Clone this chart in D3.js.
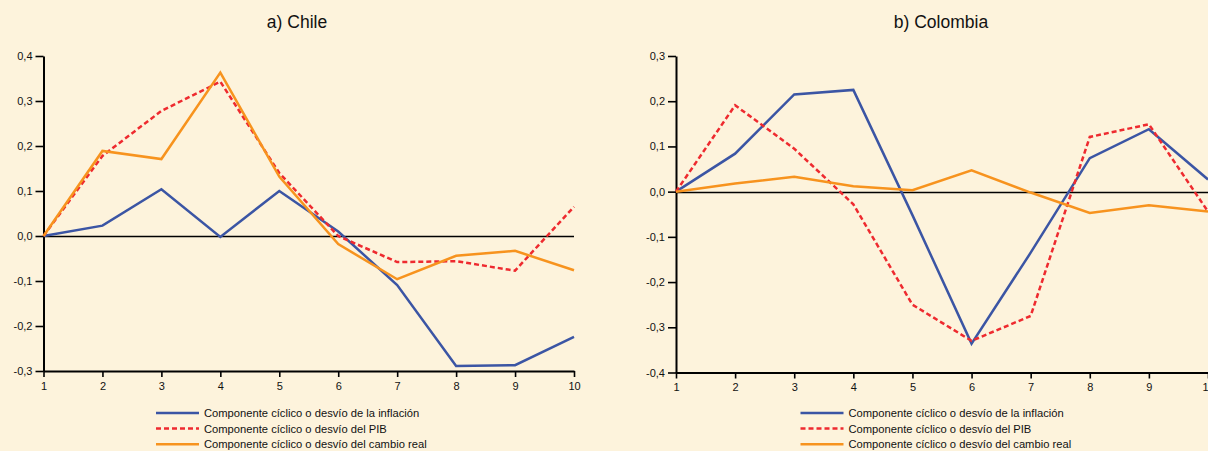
<!DOCTYPE html>
<html>
<head>
<meta charset="utf-8">
<script src="https://cdn.jsdelivr.net/npm/d3@7"></script>
<style>
  html, body { margin: 0; padding: 0; background: #fdf3dc; }
  svg { display: block; font-family: "Liberation Sans", Arial, Helvetica, sans-serif; }
</style>
</head>
<body>
<svg id="chart" width="1208" height="451"></svg>
<script>
// Periods on the x axis
const periods = [1, 2, 3, 4, 5, 6, 7, 8, 9, 10];

// a) Chile
const chileInflacion = [0, 0.023, 0.104, -0.002, 0.100, 0.010, -0.109, -0.289, -0.287, -0.224];
const chilePIB       = [0, 0.178, 0.278, 0.343, 0.140, 0.000, -0.058, -0.056, -0.077, 0.065];
const chileCambio    = [0, 0.189, 0.171, 0.363, 0.132, -0.018, -0.096, -0.044, -0.033, -0.076];
const chileTicks     = [-0.3, -0.2, -0.1, 0, 0.1, 0.2, 0.3, 0.4];

// b) Colombia
const colInflacion = [0, 0.084, 0.215, 0.225, -0.052, -0.336, -0.135, 0.074, 0.138, 0.027];
const colPIB       = [0, 0.191, 0.095, -0.028, -0.250, -0.330, -0.275, 0.121, 0.149, -0.044];
const colCambio    = [0, 0.018, 0.033, 0.012, 0.003, 0.047, -0.002, -0.047, -0.030, -0.044];
const colTicks     = [-0.4, -0.3, -0.2, -0.1, 0, 0.1, 0.2, 0.3];

const seriesNames = [
  "Componente cíclico o desvío de la inflación",
  "Componente cíclico o desvío del PIB",
  "Componente cíclico o desvío del cambio real"
];
const seriesColors = ["#3b55a4", "#ee2a2f", "#f7931e"];
const seriesDash = [null, "5,3", null];

const svg = d3.select("#chart");
const fmt = v => d3.format(".1f")(v).replace(".", ",").replace("−", "-");

function panel(opts) {
  const g = svg.append("g");
  const x = d3.scaleLinear().domain([1, 10]).range([opts.x0, opts.x1]);
  const y = d3.scaleLinear().domain([opts.ymin, opts.ymax]).range([opts.yBottom, opts.yTop]);

  // title
  g.append("text")
    .attr("x", opts.titleX).attr("y", 28)
    .attr("text-anchor", "middle")
    .attr("font-size", 17.5)
    .attr("fill", "#111")
    .text(opts.title);

  // zero reference line
  g.append("line")
    .attr("x1", x(1)).attr("x2", opts.zeroEnd)
    .attr("y1", Math.round(y(0)) + 0.5).attr("y2", Math.round(y(0)) + 0.5)
    .attr("stroke", "#000").attr("stroke-width", 1.3);

  // y axis
  const yAxis = g.append("g")
    .attr("transform", `translate(${x(1)},0)`)
    .call(d3.axisLeft(y).tickValues(opts.ticks).tickFormat(fmt).tickSize(8).tickSizeOuter(0));
  // x axis
  const xAxis = g.append("g")
    .attr("transform", `translate(0,${opts.yBottom})`)
    .call(d3.axisBottom(x).tickValues(periods).tickFormat(d3.format("d")).tickSize(6).tickSizeOuter(0));

  [yAxis, xAxis].forEach(a => {
    a.select(".domain").attr("stroke", "#000").attr("stroke-width", 2);
    a.selectAll(".tick line").attr("stroke", "#000").attr("stroke-width", 1.6);
    a.selectAll(".tick text").attr("font-size", 11).attr("fill", "#111")
      .attr("font-family", "'Liberation Sans', Arial, sans-serif");
  });
  yAxis.selectAll(".tick text").attr("x", -11);
  xAxis.selectAll(".tick text").attr("y", 11);

  // series lines
  const line = d3.line().x((d, i) => x(periods[i])).y(d => y(d));
  opts.series.forEach((s, k) => {
    g.append("path")
      .datum(s)
      .attr("d", line)
      .attr("fill", "none")
      .attr("stroke", seriesColors[k])
      .attr("stroke-width", 2.5)
      .attr("stroke-dasharray", seriesDash[k])
      .attr("stroke-linejoin", "miter");
  });

  // legend
  const lg = g.append("g").attr("transform", `translate(${opts.legendX},413)`);
  seriesNames.forEach((name, k) => {
    const row = lg.append("g").attr("transform", `translate(0,${k * 15.6})`);
    row.append("line")
      .attr("x1", 0).attr("x2", 43).attr("y1", 0).attr("y2", 0)
      .attr("stroke", seriesColors[k]).attr("stroke-width", 2.5)
      .attr("stroke-dasharray", seriesDash[k]);
    row.append("text")
      .attr("x", 48).attr("y", 4)
      .attr("font-size", 11.2).attr("fill", "#111")
      .text(name);
  });
}

panel({
  title: "a) Chile", titleX: 297,
  x0: 43.5, x1: 574, yTop: 56, yBottom: 371,
  ymin: -0.3, ymax: 0.4, ticks: chileTicks, zeroEnd: 574,
  series: [chileInflacion, chilePIB, chileCambio],
  legendX: 156
});

panel({
  title: "b) Colombia", titleX: 941,
  x0: 676, x1: 1208, yTop: 56, yBottom: 372.5,
  ymin: -0.4, ymax: 0.3, ticks: colTicks, zeroEnd: 1208,
  series: [colInflacion, colPIB, colCambio],
  legendX: 800.5
});
</script>
</body>
</html>
